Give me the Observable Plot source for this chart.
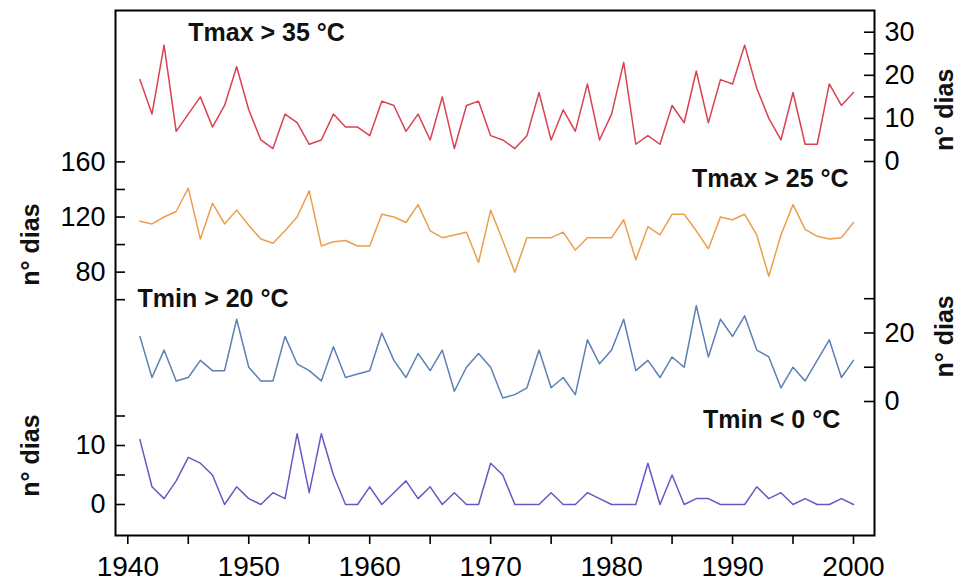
<!DOCTYPE html>
<html><head><meta charset="utf-8">
<script src="https://cdn.jsdelivr.net/npm/d3@7"></script>
<script src="https://cdn.jsdelivr.net/npm/@observablehq/plot@0.6"></script>
<style>
body{margin:0;background:#fff;}
#chart{position:relative;width:959px;height:583px;}
#chart svg{position:absolute;left:0;top:0;}
</style></head><body><div id="chart"></div>
<script>
const years = [1941,1942,1943,1944,1945,1946,1947,1948,1949,1950,
  1951,1952,1953,1954,1955,1956,1957,1958,1959,1960,
  1961,1962,1963,1964,1965,1966,1967,1968,1969,1970,
  1971,1972,1973,1974,1975,1976,1977,1978,1979,1980,
  1981,1982,1983,1984,1985,1986,1987,1988,1989,1990,
  1991,1992,1993,1994,1995,1996,1997,1998,1999,2000];
const tmax35 = [19,11,27,7,11,15,8,13,22,12, 5,3,11,9,4,5,11,8,8,6, 14,13,7,11,5,15,3,13,14,6,
  5,3,6,16,5,12,7,18,5,11, 23,4,6,4,13,9,21,9,19,18, 27,17,10,5,16,4,4,18,13,16];
const tmax25 = [117,115,120,124,141,104,130,115,125,114, 104,101,110,120,139,99,102,103,99,99,
  122,120,116,129,110,105,107,109,87,125, 103,80,105,105,105,109,96,105,105,105,
  118,89,113,107,122,122,110,97,120,118, 122,107,77,107,129,111,106,104,105,116];
const tmin20 = [19,7,15,6,7,12,9,9,24,10, 6,6,19,11,9,6,16,7,8,9, 20,12,7,14,9,15,3,10,14,10,
  1,2,4,15,4,7,2,18,11,15, 24,9,12,7,13,10,28,13,24,19, 25,15,13,4,10,6,12,18,7,12];
const tmin0 = [11,3,1,4,8,7,5,0,3,1, 0,2,1,12,2,12,5,0,0,3, 0,2,4,1,3,0,2,0,0,7,
  5,0,0,0,2,0,0,2,1,0, 0,0,7,0,5,0,1,1,0,0, 0,3,1,2,0,1,0,0,1,0];

const xTicks = [1940,1945,1950,1955,1960,1965,1970,1975,1980,1985,1990,1995,2000];
const redTicks = [0,5,10,15,20,25,30], redLabels = [0,10,20,30];
const orangeTicks = [60,80,100,120,140,160], orangeLabels = [80,120,160];
const blueTicks = [0,10,20,30], blueLabels = [0,20];
const purpleTicks = [0,5,10,15], purpleLabels = [0,10];

const titles = ["Tmax > 35 °C", "Tmax > 25 °C", "Tmin > 20 °C", "Tmin < 0 °C"];
const yLabel = "n° dias";

const W = 959, H = 583, ML = 115, MR = 85, MT = 10, MB = 48;
const FW = W - ML - MR;
const FONT = "'Liberation Sans', Arial, Helvetica, sans-serif";

const table = (arr) => years.map((year, i) => ({year, v: arr[i]}));

function layer(y, marks) {
  return Plot.plot({
    width: W, height: H, marginLeft: ML, marginRight: MR, marginTop: MT, marginBottom: MB,
    x: {domain: [1940, 2000], range: [127.3, 853], axis: null},
    y: {...y, axis: null},
    style: {background: "transparent", fontFamily: FONT, color: "black", overflow: "visible"},
    marks
  });
}
const tickOpts = (side) => side === "left"
  ? {insetRight: FW - 10, stroke: "black", strokeWidth: 1.6}
  : {insetLeft: FW - 10, stroke: "black", strokeWidth: 1.6};
const labOpts = (anchor, ticks) => ({anchor, ticks, tickSize: 0, tickPadding: 10, label: null,
  tickFormat: d => String(d), fontSize: 27});
const titleOpts = {fontWeight: "bold", fontSize: 25, fill: "#111"};
const ylabOpts = {rotate: -90, textAnchor: "middle", fontWeight: "bold", fontSize: 25, fill: "#111"};

const chart = document.getElementById("chart");

// base: frame + x axis
chart.append(layer({domain: [0, 1], range: [535, 10]}, [
  Plot.axisX({ticks: xTicks, tickSize: 9, tickPadding: 12, label: null, fontSize: 28,
    strokeWidth: 1.6, tickFormat: d => d % 10 === 0 ? String(d) : ""}),
  Plot.frame({stroke: "black", strokeWidth: 2})
]));

// Tmax > 35 (right axis, top)
chart.append(layer({domain: [0, 30], range: [161, 31.7]}, [
  Plot.tickY(redTicks, {y: d => d, ...tickOpts("right")}),
  Plot.axisY(labOpts("right", redLabels)),
  Plot.line(table(tmax35), {x: "year", y: "v", stroke: "#d8434f", strokeWidth: 1.5}),
  Plot.text([titles[0]], {x: 1945, y: 29.7, textAnchor: "start", ...titleOpts}),
  Plot.text([yLabel], {frameAnchor: "right", y: 12, dx: 70, ...ylabOpts})
]));

// Tmax > 25 (left axis)
chart.append(layer({domain: [60, 160], range: [299.2, 161.4]}, [
  Plot.tickY(orangeTicks, {y: d => d, ...tickOpts("left")}),
  Plot.axisY(labOpts("left", orangeLabels)),
  Plot.line(table(tmax25), {x: "year", y: "v", stroke: "#eb9f4c", strokeWidth: 1.5}),
  Plot.text([titles[1]], {x: 1999.6, y: 147.3, textAnchor: "end", ...titleOpts}),
  Plot.text([yLabel], {frameAnchor: "left", y: 100, dx: -85, ...ylabOpts})
]));

// Tmin > 20 (right axis)
chart.append(layer({domain: [0, 30], range: [401, 298.2]}, [
  Plot.tickY(blueTicks, {y: d => d, ...tickOpts("right")}),
  Plot.axisY(labOpts("right", blueLabels)),
  Plot.line(table(tmin20), {x: "year", y: "v", stroke: "#5a80b4", strokeWidth: 1.5}),
  Plot.text([titles[2]], {x: 1940.8, y: 29.8, textAnchor: "start", ...titleOpts}),
  Plot.text([yLabel], {frameAnchor: "right", y: 19, dx: 70, ...ylabOpts})
]));

// Tmin < 0 (left axis, bottom)
chart.append(layer({domain: [0, 15], range: [504, 415.5]}, [
  Plot.tickY(purpleTicks, {y: d => d, ...tickOpts("left")}),
  Plot.axisY(labOpts("left", purpleLabels)),
  Plot.line(table(tmin0), {x: "year", y: "v", stroke: "#6a57c4", strokeWidth: 1.5}),
  Plot.text([titles[3]], {x: 1998.9, y: 14.4, textAnchor: "end", ...titleOpts}),
  Plot.text([yLabel], {frameAnchor: "left", y: 8.3, dx: -85, ...ylabOpts})
]));
</script></body></html>
